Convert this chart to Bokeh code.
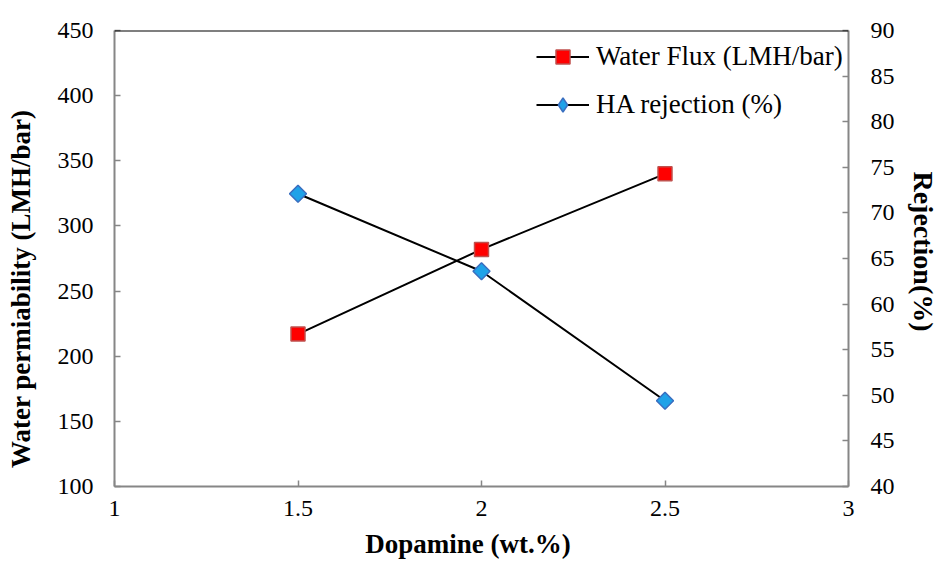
import math
from bokeh.plotting import figure
from bokeh.models import Range1d, LinearAxis, Legend, LegendItem, Span, FixedTicker
from bokeh.embed import file_html
from bokeh.resources import INLINE

dopamine = [1.5, 2.0, 2.5]
water_flux = [217, 282, 340]
ha_rejection = [72.1, 63.6, 49.4]

left_ticks = [100, 150, 200, 250, 300, 350, 400, 450]
right_ticks = [40, 45, 50, 55, 60, 65, 70, 75, 80, 85, 90]
x_ticks = [1, 1.5, 2, 2.5, 3]

FONT = "Liberation Serif"
AX = "#868686"
NB = "\u00a0"
W, H = 945, 561

p = figure(width=W, height=H, output_backend="svg", toolbar_location=None,
           x_range=Range1d(1, 3), y_range=Range1d(100, 450),
           min_border_left=114, min_border_right=W - 848, min_border_top=30,
           min_border_bottom=H - 486)
p.outline_line_color = None
p.grid.visible = False
p.background_fill_color = "white"
p.border_fill_color = "white"
p.extra_y_ranges = {"rej": Range1d(40, 90)}

def style(ax, standoff, title, title_size, title_standoff):
    ax.axis_line_color = AX
    ax.axis_line_width = 2
    ax.major_tick_line_color = AX
    ax.major_tick_line_width = 1.5
    ax.major_tick_in = 6
    ax.major_tick_out = 0
    ax.minor_tick_line_color = None
    ax.major_label_text_font = FONT
    ax.major_label_text_font_size = "24px"
    ax.major_label_text_color = "black"
    ax.major_label_standoff = standoff
    ax.axis_label = title
    ax.axis_label_text_font = FONT
    ax.axis_label_text_font_size = title_size
    ax.axis_label_text_font_style = "bold"
    ax.axis_label_text_color = "black"
    ax.axis_label_standoff = title_standoff

p.xaxis.ticker = FixedTicker(ticks=x_ticks)
p.xaxis.major_label_overrides = {1: "1", 1.5: "1.5", 2: "2", 2.5: "2.5", 3: "3"}
style(p.xaxis[0], 14, "Dopamine (wt.%)" + NB * 4, "27px", 10)

p.yaxis.ticker = FixedTicker(ticks=left_ticks)
style(p.yaxis[0], 21, "Water permiability (LMH/bar)" + NB * 9, "27px", 19)

right = LinearAxis(y_range_name="rej", ticker=FixedTicker(ticks=right_ticks))
style(right, 22, "Rejection(%)" + NB * 2, "28px", 10)
p.add_layout(right, "right")

p.add_layout(Span(location=450, dimension="width", line_color="black", line_width=2))

l1 = p.line(dopamine, water_flux, line_color="black", line_width=2)
s1 = p.scatter(dopamine, water_flux, marker="square", size=14,
               fill_color="#ff0000", line_color="#c0504d", line_width=1.5)
l2 = p.line(dopamine, ha_rejection, y_range_name="rej", line_color="black", line_width=2)
s2 = p.scatter(dopamine, ha_rejection, y_range_name="rej", marker="square", angle=math.pi / 4,
               size=12, fill_color="#1fa2e8", line_color="#3a6fc0", line_width=1.5)
s2_key = p.scatter(dopamine, ha_rejection, y_range_name="rej", marker="diamond",
                   fill_color="#1fa2e8", line_color="#3a6fc0", line_width=1.5, visible=False)

legend = Legend(items=[LegendItem(label="Water Flux (LMH/bar)", renderers=[l1, s1]),
                       LegendItem(label="HA rejection (%)", renderers=[l2, s2_key])],
                location=(422, 364), border_line_color=None, background_fill_alpha=0,
                inactive_fill_alpha=0,
                label_text_font=FONT, label_text_font_size="27px", label_text_color="black",
                glyph_width=53, glyph_height=35, label_height=35, spacing=13,
                padding=5, margin=0, label_standoff=7)
p.add_layout(legend)

open("out.html", "w").write(file_html(p, INLINE))
